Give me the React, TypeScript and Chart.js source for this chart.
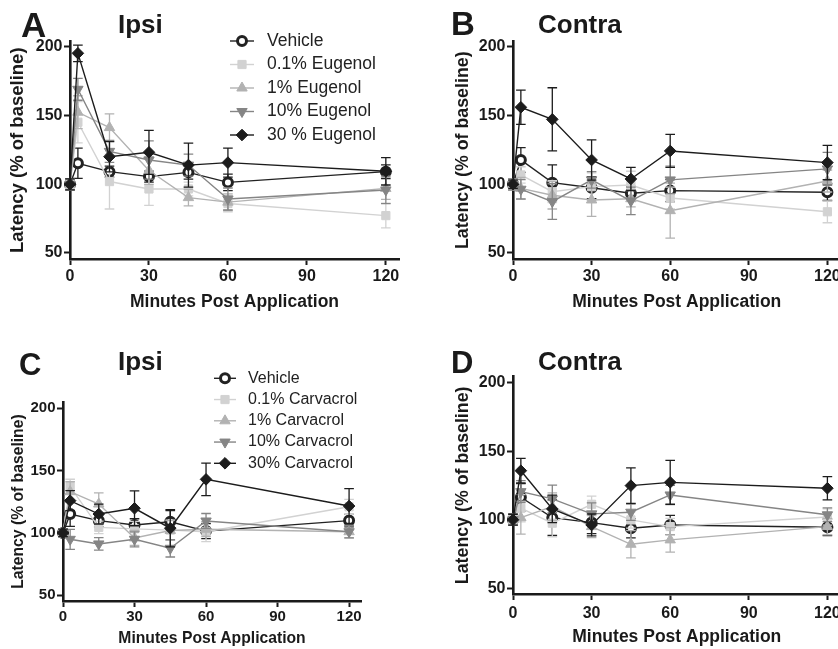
import React, { useEffect, useRef } from 'react';
import { Chart, registerables } from 'chart.js';
import { drawPoint } from 'chart.js/helpers';

Chart.register(...registerables);

const FONT = "'Liberation Sans', Arial, Helvetica, sans-serif";
const INK = '#1a1a1a';

// ---------- shared axes ----------
const times = [0, 3, 15, 30, 45, 60, 120];
const xTickValues = [0, 30, 60, 90, 120];
const yTickValues = [50, 100, 150, 200];

const eugenolNames = ['Vehicle', '0.1% Eugenol', '1% Eugenol', '10% Eugenol', '30 % Eugenol'];
const carvacrolNames = ['Vehicle', '0.1% Carvacrol', '1% Carvacrol', '10% Carvacrol', '30% Carvacrol'];

// ---------- Panel A (Eugenol, Ipsi) ----------
const aVehicle = [100, 115.3, 109.2, 105.6, 108.7, 101.4, 109.2];
const aVehicleErr = [4, 11, 4, 4, 5, 6, 5];
const aEug01 = [100, 145.2, 102, 96.6, 96.6, 86, 77.2];
const aEug01Err = [4, 15, 20, 12, 5, 6, 9];
const aEug1 = [100, 152.5, 141.3, 110, 90.3, 87, 97];
const aEug1Err = [4, 12, 10, 10, 6, 6, 8];
const aEug10 = [100, 169.2, 124, 117.7, 114, 89.3, 95.9];
const aEug10Err = [4, 8, 8, 14, 8, 8, 10];
const aEug30 = [100, 195.4, 120.1, 123.3, 114, 115.8, 109.5];
const aEug30Err = [4, 6, 11, 16, 16, 10.5, 10];

// ---------- Panel B (Eugenol, Contra) ----------
const bVehicle = [100, 117.7, 101.2, 97.5, 93.5, 95.4, 94.2];
const bVehicleErr = [4, 9, 13, 8, 5, 8, 6];
const bEug01 = [100, 106.8, 94.6, 98.3, 99.5, 90, 80];
const bEug01Err = [4, 6, 8, 10, 10, 8, 8];
const bEug1 = [100, 97, 92, 88.6, 89.5, 80.8, 102.4];
const bEug1Err = [4, 8, 10, 12, 6, 20, 8];
const bEug10 = [100, 96.4, 87.4, 103.2, 87.9, 103.2, 111.2];
const bEug10Err = [4, 7, 13, 6, 10, 10, 12];
const bEug30 = [100, 156.1, 147.3, 117.7, 103.9, 124.3, 115.8];
const bEug30Err = [3, 12.5, 23, 14.6, 8.5, 12, 12.5];

// ---------- Panel C (Carvacrol, Ipsi) ----------
const cVehicle = [100, 115.2, 109.9, 106.4, 109, 101.5, 109.9];
const cVehicleErr = [3, 10, 5, 5, 9, 6, 5];
const cCar01 = [100, 137.1, 104.5, 103.3, 102.3, 101, 121];
const cCar01Err = [3, 6, 5, 6, 8, 8, 6];
const cCar1 = [100, 133.1, 123.2, 96, 102, 103, 101];
const cCar1Err = [3, 8, 9, 6, 8, 6, 5];
const cCar10 = [100, 94.9, 91.2, 94.9, 87.7, 109.6, 101];
const cCar10Err = [3, 8, 5, 6, 7, 6, 5];
const cCar30 = [100, 125.9, 115.2, 119.8, 103.8, 143, 121.6];
const cCar30Err = [3, 8, 8, 14, 15, 13, 14];

// ---------- Panel D (Carvacrol, Contra) ----------
const dVehicle = [100, 116.4, 101.5, 97.9, 93.8, 96.2, 94.5];
const dVehicleErr = [4, 10, 13, 8, 7, 7, 6];
const dCar01 = [100, 108.4, 97.5, 111.3, 99.9, 95, 102];
const dCar01Err = [4, 10, 10, 6, 6, 6, 6];
const dCar1 = [100, 101.5, 109.6, 95, 82.1, 85.3, 95];
const dCar1Err = [4, 12, 10, 8, 10, 9, 6];
const dCar10 = [100, 120.5, 115.2, 104.3, 105.5, 118.1, 103.6];
const dCar10Err = [4, 8, 10, 8, 6, 7, 5];
const dCar30 = [100, 135.8, 107.9, 96.2, 124.9, 127.3, 123];
const dCar30Err = [4, 9, 10, 8, 13, 16, 8.5];

// ---------- series styles ----------
const seriesStyles = [
  { color: '#222222', fill: '#ffffff', pointStyle: 'circle', radius: 4.5, bw: 3, rotation: 0 },
  { color: '#d2d2d2', fill: '#d2d2d2', pointStyle: 'rect', radius: 5.8, bw: 1, rotation: 0 },
  { color: '#b2b2b2', fill: '#b2b2b2', pointStyle: 'triangle', radius: 6, bw: 1, rotation: 0 },
  { color: '#858585', fill: '#858585', pointStyle: 'triangle', radius: 6, bw: 1, rotation: 180 },
  { color: '#1c1c1c', fill: '#1c1c1c', pointStyle: 'rectRot', radius: 5.8, bw: 1, rotation: 0 },
];

type Legend = { x1: number; x2: number; mx: number; tx: number; y0: number; dy: number; size: number };
type PanelCfg = {
  left: number; top: number; width: number; height: number;
  chartTop: number; yAxisW: number; xAxisH: number; padRight: number;
  yMin: number; yMax: number;
  tickSize: number; yTitleSize: number; xTitleSize: number;
  yTitlePad: number; xTitlePad: number; yTickPad: number; xTickPad: number;
  letter: string; letterX: number; letterBase: number; letterSize: number;
  title: string; titleX: number; titleBase: number; titleSize: number;
  names: string[]; values: number[][]; errors: number[][];
  legend?: Legend;
};

const panels: PanelCfg[] = [
  {
    left: 0, top: 0, width: 419, height: 320,
    chartTop: 41.5, yAxisW: 70, xAxisH: 61, padRight: 20,
    yMin: 45.6, yMax: 204,
    tickSize: 16, yTitleSize: 18.5, xTitleSize: 17.5,
    yTitlePad: 6.9, xTitlePad: 7.5, yTickPad: 1.5, xTickPad: 2,
    letter: 'A', letterX: 21, letterBase: 37, letterSize: 35,
    title: 'Ipsi', titleX: 118, titleBase: 33, titleSize: 26,
    names: eugenolNames,
    values: [aVehicle, aEug01, aEug1, aEug10, aEug30],
    errors: [aVehicleErr, aEug01Err, aEug1Err, aEug10Err, aEug30Err],
    legend: { x1: 230, x2: 254, mx: 242, tx: 267, y0: 41, dy: 23.5, size: 17.5 },
  },
  {
    left: 419, top: 0, width: 440, height: 320,
    chartTop: 41.5, yAxisW: 94, xAxisH: 61, padRight: 18.5,
    yMin: 45.6, yMax: 204,
    tickSize: 16, yTitleSize: 17.8, xTitleSize: 17.5,
    yTitlePad: 33, xTitlePad: 7.5, yTickPad: 1.5, xTickPad: 2,
    letter: 'B', letterX: 32, letterBase: 35, letterSize: 33,
    title: 'Contra', titleX: 119, titleBase: 33, titleSize: 26,
    names: eugenolNames,
    values: [bVehicle, bEug01, bEug1, bEug10, bEug30],
    errors: [bVehicleErr, bEug01Err, bEug1Err, bEug10Err, bEug30Err],
  },
  {
    left: 0, top: 320, width: 419, height: 329,
    chartTop: 82.1, yAxisW: 63, xAxisH: 48, padRight: 58,
    yMin: 45.4, yMax: 205,
    tickSize: 15, yTitleSize: 15.7, xTitleSize: 15.7,
    yTitlePad: 8.9, xTitlePad: 1.3, yTickPad: 1.5, xTickPad: 1,
    letter: 'C', letterX: 19, letterBase: 55, letterSize: 31,
    title: 'Ipsi', titleX: 118, titleBase: 50, titleSize: 26,
    names: carvacrolNames,
    values: [cVehicle, cCar01, cCar1, cCar10, cCar30],
    errors: [cVehicleErr, cCar01Err, cCar1Err, cCar10Err, cCar30Err],
    legend: { x1: 214, x2: 236, mx: 225, tx: 248, y0: 58.3, dy: 21.25, size: 16 },
  },
  {
    left: 419, top: 320, width: 440, height: 329,
    chartTop: 56.7, yAxisW: 94, xAxisH: 55, padRight: 18.5,
    yMin: 45.8, yMax: 204.4,
    tickSize: 16, yTitleSize: 17.8, xTitleSize: 17.5,
    yTitlePad: 33, xTitlePad: 1.8, yTickPad: 1.5, xTickPad: 3.7,
    letter: 'D', letterX: 32, letterBase: 53.3, letterSize: 31,
    title: 'Contra', titleX: 119, titleBase: 50, titleSize: 26,
    names: carvacrolNames,
    values: [dVehicle, dCar01, dCar1, dCar10, dCar30],
    errors: [dVehicleErr, dCar01Err, dCar1Err, dCar10Err, dCar30Err],
  },
];

function makeChart(canvas: HTMLCanvasElement, cfg: PanelCfg) {
  const datasets = cfg.values.map((vals, i) => {
    const s = seriesStyles[i];
    return {
      label: cfg.names[i],
      data: times.map((t, j) => ({ x: t, y: vals[j] })),
      borderColor: s.color,
      backgroundColor: s.fill,
      borderWidth: 1.4,
      pointStyle: s.pointStyle,
      pointRadius: s.radius,
      pointBorderWidth: s.bw,
      pointBorderColor: s.color,
      pointBackgroundColor: s.fill,
      pointRotation: s.rotation,
      tension: 0,
      clip: false,
      order: 5 - i,
    };
  });

  const errorBars = {
    id: 'errorBars',
    beforeDatasetDraw(chart: any, args: any) {
      const i = args.index;
      const meta = args.meta;
      const ys = chart.scales.y;
      const ctx = chart.ctx;
      const vals = cfg.values[i];
      const errs = cfg.errors[i];
      ctx.save();
      ctx.strokeStyle = seriesStyles[i].color;
      ctx.lineWidth = 1.3;
      meta.data.forEach((pt: any, j: number) => {
        const x = pt.x;
        const y1 = ys.getPixelForValue(vals[j] + errs[j]);
        const y2 = ys.getPixelForValue(vals[j] - errs[j]);
        const cap = 4.8;
        ctx.beginPath();
        ctx.moveTo(x, y1);
        ctx.lineTo(x, y2);
        ctx.moveTo(x - cap, y1);
        ctx.lineTo(x + cap, y1);
        ctx.moveTo(x - cap, y2);
        ctx.lineTo(x + cap, y2);
        ctx.stroke();
      });
      ctx.restore();
    },
  };

  const decor = {
    id: 'decor',
    afterDraw(chart: any) {
      const ctx = chart.ctx;
      ctx.save();
      ctx.fillStyle = INK;
      ctx.textBaseline = 'alphabetic';
      ctx.textAlign = 'left';
      ctx.font = `bold ${cfg.letterSize}px ${FONT}`;
      ctx.fillText(cfg.letter, cfg.letterX, cfg.letterBase);
      ctx.font = `bold ${cfg.titleSize}px ${FONT}`;
      ctx.fillText(cfg.title, cfg.titleX, cfg.titleBase);
      const lg = cfg.legend;
      if (lg) {
        cfg.names.forEach((name, i) => {
          const s = seriesStyles[i];
          const y = lg.y0 + i * lg.dy;
          ctx.strokeStyle = s.color;
          ctx.lineWidth = 1.4;
          ctx.beginPath();
          ctx.moveTo(lg.x1, y);
          ctx.lineTo(lg.x2, y);
          ctx.stroke();
          ctx.fillStyle = s.fill;
          ctx.strokeStyle = s.color;
          ctx.lineWidth = s.bw;
          drawPoint(ctx, { pointStyle: s.pointStyle, radius: s.radius, rotation: s.rotation, borderWidth: s.bw } as any, lg.mx, y);
          ctx.fillStyle = '#222222';
          ctx.font = `${lg.size}px ${FONT}`;
          ctx.textBaseline = 'middle';
          ctx.fillText(name, lg.tx, y);
        });
      }
      ctx.restore();
    },
  };

  const axisCommon = {
    grid: { display: true, drawOnChartArea: false, drawTicks: true, tickLength: 6, tickWidth: 2, tickColor: INK },
    border: { display: true, color: INK, width: 2.6 },
  };

  return new Chart(canvas, {
    type: 'line',
    data: { datasets: datasets as any },
    options: {
      responsive: false,
      animation: false,
      devicePixelRatio: 1,
      layout: { padding: { left: 0, top: cfg.chartTop, right: cfg.padRight, bottom: 0 } },
      plugins: { legend: { display: false }, tooltip: { enabled: false } },
      scales: {
        x: {
          type: 'linear',
          position: 'bottom',
          min: 0,
          max: 125,
          ...axisCommon,
          afterBuildTicks: (scale: any) => {
            scale.ticks = xTickValues.map((v) => ({ value: v }));
          },
          afterFit: (scale: any) => {
            scale.height = cfg.xAxisH;
          },
          ticks: {
            color: INK,
            padding: cfg.xTickPad,
            maxRotation: 0,
            autoSkip: false,
            font: { family: FONT, size: cfg.tickSize, weight: 'bold' },
          },
          title: {
            display: true,
            text: 'Minutes Post Application',
            color: INK,
            padding: { top: 0, bottom: cfg.xTitlePad },
            font: { family: FONT, size: cfg.xTitleSize, weight: 'bold' },
          },
        },
        y: {
          type: 'linear',
          position: 'left',
          min: cfg.yMin,
          max: cfg.yMax,
          ...axisCommon,
          afterBuildTicks: (scale: any) => {
            scale.ticks = yTickValues.map((v) => ({ value: v }));
          },
          afterFit: (scale: any) => {
            scale.width = cfg.yAxisW;
          },
          ticks: {
            color: INK,
            padding: cfg.yTickPad,
            autoSkip: false,
            font: { family: FONT, size: cfg.tickSize, weight: 'bold' },
          },
          title: {
            display: true,
            text: 'Latency (% of baseline)',
            color: INK,
            padding: { top: cfg.yTitlePad, bottom: 0 },
            font: { family: FONT, size: cfg.yTitleSize, weight: 'bold' },
          },
        },
      },
    } as any,
    plugins: [errorBars, decor],
  });
}

function Panel({ cfg }: { cfg: PanelCfg }) {
  const ref = useRef<HTMLCanvasElement | null>(null);
  useEffect(() => {
    if (!ref.current) return;
    const chart = makeChart(ref.current, cfg);
    return () => chart.destroy();
  }, [cfg]);
  return (
    <canvas
      ref={ref}
      width={cfg.width}
      height={cfg.height}
      style={{ position: 'absolute', left: cfg.left, top: cfg.top, width: cfg.width, height: cfg.height }}
    />
  );
}

export default function App() {
  return (
    <div
      style={{
        position: 'absolute',
        left: 0,
        top: 0,
        width: 838,
        height: 649,
        overflow: 'hidden',
        background: '#ffffff',
      }}
    >
      {panels.map((p, i) => (
        <Panel key={i} cfg={p} />
      ))}
    </div>
  );
}
